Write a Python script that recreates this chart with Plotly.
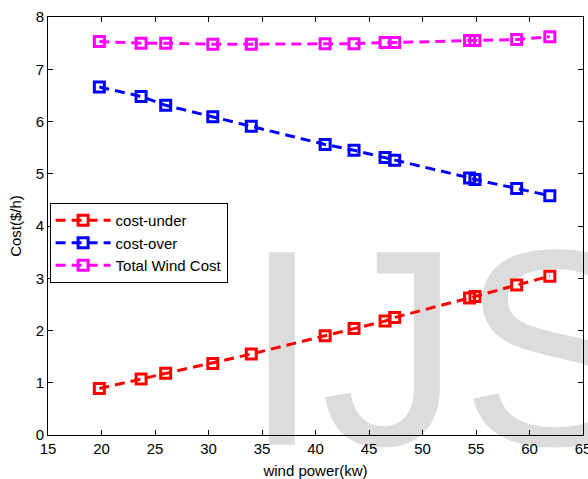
import plotly.graph_objects as go

wind_power = [19.8, 23.7, 26.0, 30.4, 34.0, 40.9, 43.6, 46.5, 47.4, 54.4, 54.9, 58.8, 61.9]
cost_under = [0.89, 1.07, 1.18, 1.37, 1.55, 1.90, 2.04, 2.18, 2.25, 2.62, 2.65, 2.87, 3.04]
cost_over = [6.66, 6.48, 6.31, 6.09, 5.91, 5.56, 5.45, 5.31, 5.26, 4.92, 4.89, 4.72, 4.58]
total_cost = [7.53, 7.50, 7.50, 7.48, 7.48, 7.49, 7.49, 7.51, 7.51, 7.55, 7.55, 7.57, 7.62]

series_names = ["cost-under", "cost-over", "Total Wind Cost"]
series_values = [cost_under, cost_over, total_cost]
series_colors = ["#ff0000", "#0000ff", "#ff00ff"]

x_ticks = [15, 20, 25, 30, 35, 40, 45, 50, 55, 60, 65]
y_ticks = [0, 1, 2, 3, 4, 5, 6, 7, 8]

FONT = "Liberation Sans, Arial, sans-serif"
FS = 15

fig = go.Figure()
for name, vals, col in zip(series_names, series_values, series_colors):
    fig.add_trace(go.Scatter(
        x=wind_power, y=vals, name=name, mode="lines+markers",
        line=dict(color=col, width=3, dash="10px,6px"),
        marker=dict(symbol="square-open", size=10, color=col, line=dict(color=col, width=3)),
        cliponaxis=False,
    ))

# watermark behind the data
fig.add_shape(
    type="rect", xref="paper", yref="paper", x0=0.3586, x1=1.2, y0=-0.10, y1=0.40,
    layer="below", line=dict(width=0), fillcolor="rgba(0,0,0,0)",
    label=dict(text="IJS", font=dict(family=FONT, size=280, color="#dcdcdc"),
               textposition="bottom left", padding=0),
)

axis_common = dict(
    showgrid=False, zeroline=False, showline=True, linecolor="black", linewidth=1,
    mirror="allticks", ticks="inside", ticklen=5, tickcolor="black",
    tickfont=dict(family=FONT, size=FS, color="black"),
    ticklabeloverflow="allow", automargin=False,
)

fig.update_xaxes(range=[15, 65], tickvals=x_ticks, ticktext=[str(v) for v in x_ticks],
                 title=dict(text="wind power(kw)", font=dict(family=FONT, size=FS, color="black"), standoff=10),
                 **axis_common)
fig.update_yaxes(range=[0, 8], tickvals=y_ticks, ticktext=[str(v) for v in y_ticks],
                 title=dict(text="Cost($/h)", font=dict(family=FONT, size=FS, color="black"), standoff=10),
                 **axis_common)

fig.update_layout(
    width=588, height=479,
    margin=dict(l=48, r=5, t=17, b=44),
    paper_bgcolor="white", plot_bgcolor="white",
    font=dict(family=FONT, size=FS, color="black"),
    showlegend=True,
    legend=dict(x=0.003, y=0.555, xanchor="left", yanchor="top",
                bgcolor="white", bordercolor="black", borderwidth=1,
                font=dict(family=FONT, size=FS, color="black"),
                tracegroupgap=0, itemwidth=55),
)

fig.write_html("out.html")
